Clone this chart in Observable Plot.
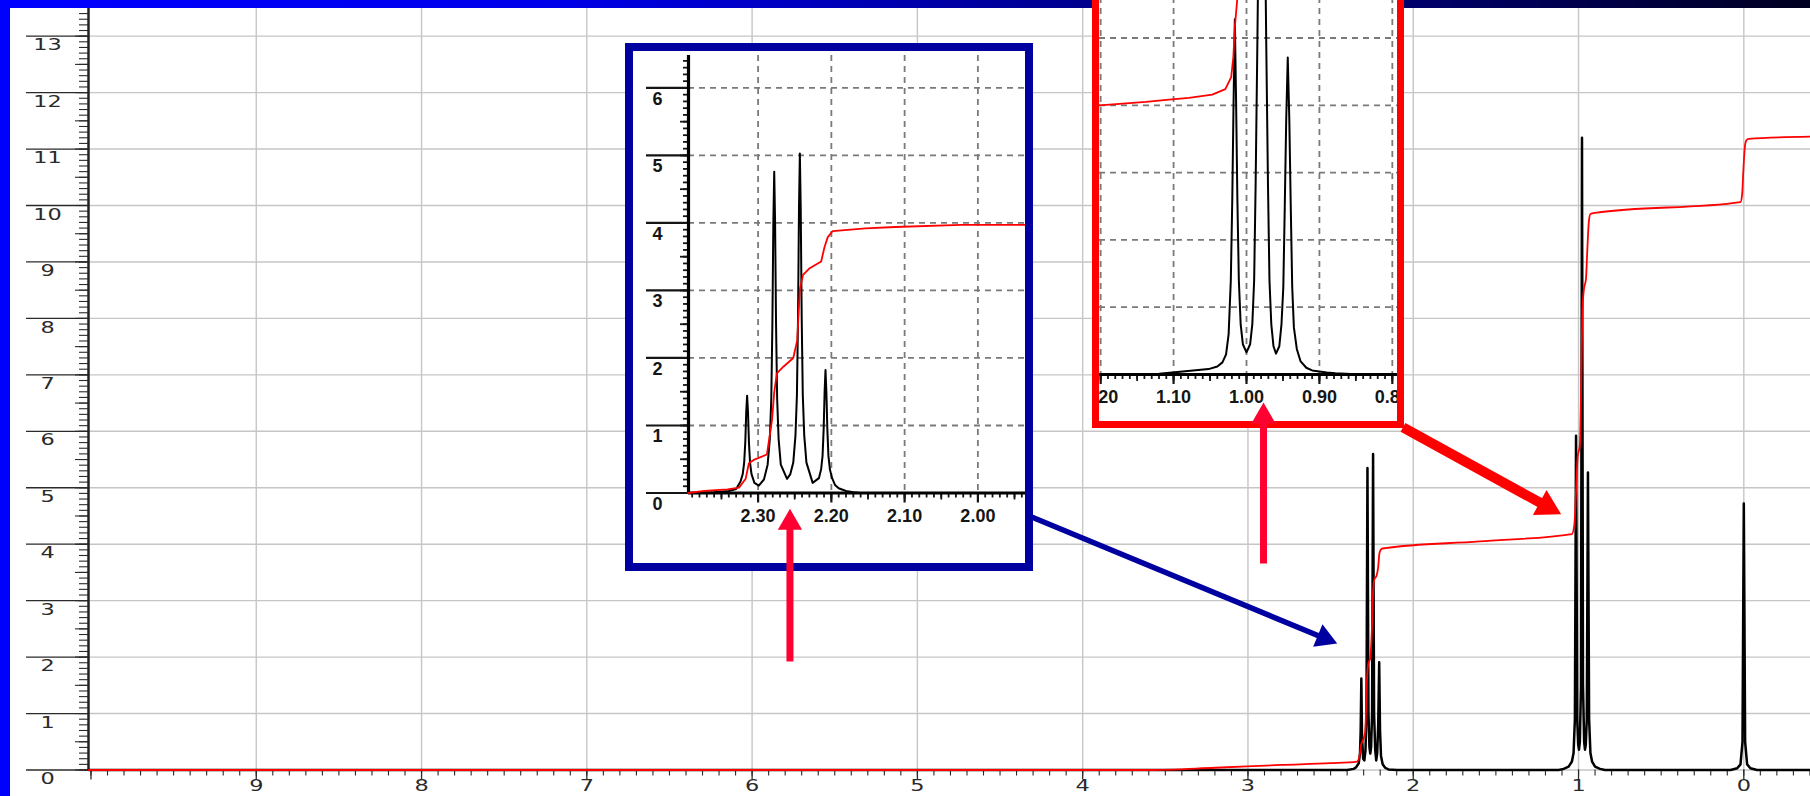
<!DOCTYPE html>
<html><head><meta charset="utf-8">
<script src="https://cdn.jsdelivr.net/npm/d3@7"></script>
<script src="https://cdn.jsdelivr.net/npm/@observablehq/plot@0.6"></script>
<style>
html,body{margin:0;padding:0;background:#fff;overflow:hidden}
#wrap{position:relative;width:1810px;height:796px;overflow:hidden;background:#fff}
#wrap svg{display:block}
#topbar{position:absolute;left:0;top:0;width:1810px;height:8px;background:linear-gradient(to right,#0000ff 0%,#0000ea 30%,#00008e 60%,#00006c 78%,#000020 100%)}
#leftbar{position:absolute;left:0;top:0;width:10px;height:796px;background:#0000ff}
.box{position:absolute;box-sizing:border-box;background:#fff;overflow:hidden}
#box1{left:625px;top:43px;width:408px;height:528px;border:8px solid #0000a0}
#box2{left:1092px;top:-10px;width:312px;height:438px;border:7px solid #ff0000}
.box svg{position:absolute;left:0;top:0}
</style></head><body><div id="wrap"></div>
<script>
// ---------------- DATA ----------------
// Main spectrum: [ppm, intensity]
const mainSpectrum = [
 [10.015,0],[2.40,0],[2.36,0.02],[2.345,0.05],[2.33,0.12],[2.322,0.3],[2.318,0.7],[2.314,1.62],[2.310,0.6],[2.303,0.2],[2.296,0.17],[2.289,0.35],[2.283,1.0],[2.277,5.35],[2.271,1.0],[2.265,0.4],[2.260,0.29],[2.255,0.4],[2.249,1.0],[2.243,5.6],[2.237,1.0],[2.23,0.35],[2.224,0.17],[2.218,0.3],[2.212,0.8],[2.206,1.91],[2.201,0.7],[2.195,0.25],[2.185,0.1],[2.17,0.04],[2.15,0.01],[2.10,0],
 [1.12,0],[1.09,0.02],[1.06,0.06],[1.04,0.15],[1.03,0.3],[1.022,0.9],[1.015,5.92],[1.008,0.9],[1.002,0.45],[0.997,0.36],[0.992,0.5],[0.985,1.5],[0.979,11.2],[0.973,1.5],[0.966,0.5],[0.961,0.36],[0.956,0.45],[0.95,0.9],[0.943,5.27],[0.936,0.9],[0.928,0.3],[0.918,0.15],[0.90,0.06],[0.87,0.02],[0.84,0],
 [0.08,0],[0.04,0.03],[0.02,0.1],[0.008,0.5],[0,4.72],[-0.008,0.5],[-0.02,0.1],[-0.04,0.03],[-0.08,0],[-0.4035,0]
];
// Main integral curve: [ppm, value]
const mainIntegral = [
 [10.015,0],[3.6,0],[3.2,0.04],[2.8,0.09],[2.5,0.12],[2.34,0.15],[2.325,0.25],[2.315,0.45],[2.30,0.56],[2.29,0.7],[2.28,1.6],[2.272,1.88],[2.26,1.98],[2.25,2.5],[2.243,3.15],[2.235,3.38],[2.222,3.44],[2.212,3.6],[2.204,3.85],[2.19,3.92],[2.17,3.93],[1.6,4.05],[1.04,4.18],[1.025,4.35],[1.015,4.95],[1.005,5.55],[0.992,5.75],[0.984,6.8],[0.977,8.1],[0.968,8.5],[0.955,8.7],[0.947,9.2],[0.938,9.7],[0.928,9.85],[0.9,9.87],[0.02,10.06],[0.01,10.2],[0.003,10.6],[-0.005,11.0],[-0.015,11.15],[-0.03,11.18],[-0.4035,11.22]
];
// Inset 1 (quartet, 2.4–1.94 ppm)
const inset1Spectrum = [
 [2.395,0],[2.36,0.01],[2.34,0.03],[2.33,0.06],[2.324,0.17],[2.321,0.28],[2.319,0.45],[2.3175,0.75],[2.3162,1.2],[2.315,1.44],[2.3138,1.2],[2.3125,0.75],[2.311,0.45],[2.309,0.28],[2.305,0.15],[2.299,0.11],[2.292,0.2],[2.287,0.42],[2.284,0.8],[2.282,1.4],[2.2805,2.5],[2.2792,4.0],[2.278,4.76],[2.2768,4.0],[2.2755,2.5],[2.274,1.4],[2.272,0.8],[2.269,0.42],[2.2605,0.21],[2.256,0.28],[2.252,0.45],[2.249,0.85],[2.247,1.45],[2.2455,2.6],[2.2442,4.2],[2.243,5.03],[2.2418,4.2],[2.2405,2.6],[2.239,1.45],[2.237,0.85],[2.234,0.45],[2.2255,0.15],[2.217,0.22],[2.214,0.35],[2.212,0.55],[2.2105,0.95],[2.2092,1.5],[2.208,1.82],[2.2068,1.5],[2.2055,0.95],[2.204,0.55],[2.202,0.35],[2.199,0.22],[2.195,0.12],[2.19,0.07],[2.18,0.03],[2.17,0.01],[2.16,0],[1.935,0]
];
const inset1Integral = [
 [2.3955,0],[2.373,0.03],[2.3417,0.055],[2.326,0.08],[2.317,0.21],[2.3126,0.44],[2.306,0.49],[2.288,0.57],[2.281,1.08],[2.278,1.49],[2.2744,1.77],[2.2655,1.87],[2.252,2.0],[2.2466,2.26],[2.243,3.02],[2.2386,3.23],[2.2296,3.33],[2.2139,3.43],[2.2094,3.64],[2.2049,3.79],[2.1982,3.88],[2.1534,3.92],[2.113,3.94],[2.0233,3.97],[1.935,3.97]
];
// Inset 2 (triplet, 1.2–0.8 ppm)
const inset2Spectrum = [
 [1.2016,0],[1.12,0.01],[1.084,0.05],[1.052,0.08],[1.04,0.12],[1.033,0.18],[1.028,0.3],[1.0245,0.6],[1.0215,1.4],[1.0195,2.6],[1.0178,4.0],[1.016,5.28],[1.0142,4.0],[1.0125,2.6],[1.0105,1.4],[1.008,0.75],[1.005,0.45],[1.0,0.33],[0.995,0.45],[0.992,0.75],[0.9895,1.4],[0.9875,2.8],[0.985,5.0],[0.982,8.0],[0.979,10.0],[0.976,8.0],[0.973,5.0],[0.9705,2.8],[0.9685,1.4],[0.966,0.75],[0.963,0.42],[0.9595,0.31],[0.955,0.42],[0.952,0.75],[0.9495,1.3],[0.9475,2.5],[0.9455,3.8],[0.9434,4.71],[0.9413,3.8],[0.9393,2.5],[0.9373,1.3],[0.935,0.7],[0.931,0.38],[0.926,0.2],[0.918,0.1],[0.91,0.06],[0.89,0.03],[0.878,0.02],[0.85,0.005],[0.7929,0]
];
const inset2Integral = [
 [1.2016,4.0],[1.138,4.05],[1.11,4.08],[1.079,4.11],[1.047,4.16],[1.029,4.24],[1.021,4.42],[1.018,4.72],[1.016,5.16],[1.0128,5.56],[1.005,6.2]
];
// Tick labels
const mainXTickLabels = [9,8,7,6,5,4,3,2,1,0];
const mainYTickLabels = [0,1,2,3,4,5,6,7,8,9,10,11,12,13];
const inset1XTickLabels = [2.30,2.20,2.10,2.00];
const inset1YTickLabels = [0,1,2,3,4,5,6];
const inset2XTickLabels = [1.20,1.10,1.00,0.90,0.80];
const inset2YGrid = [1,2,3,4,5];
// Annotation arrows, in main-chart coordinates (ppm, intensity)
const arrowFromPpm   = [5.771, 2.906, 4.316, 2.062];
const arrowFromValue = [1.92, 3.66, 4.49, 6.07];
const arrowToPpm     = [5.771, 2.906, 2.460, 1.105];
const arrowToValue   = [4.63, 6.51, 2.24, 4.53];

// ---------------- STYLE / LAYOUT ----------------
const W = 1810, H = 796;
const M = {left: 88, right: 0, top: 8, bottom: 26.5};
const XD = [10.015, -0.4035], YD = [0, 13.49];
const fmt2 = d3.format(".2f");
const gridStyle = {stroke: "#c6c6c6", strokeOpacity: 1, strokeWidth: 1.4};
const ink = "#2a2a2a";
const mainFont = {fontFamily: "DejaVu Sans, sans-serif", fontSize: 16};
const arrowStyle = [
 {color: "#ff0033", width: 7, r: 9},
 {color: "#ff0033", width: 7, r: 9},
 {color: "#0000a0", width: 5.5, r: 9},
 {color: "#ff0000", width: 10, r: 10.5}
];
const xy = {x: d => d[0], y: d => d[1]};
const tickOnly = {fill: "none", label: null};

// widen axis tick labels horizontally (reference glyphs are wide)
function stretchLabels(svg, sx) {
  svg.querySelectorAll('g[aria-label="x-axis tick label"] text, g[aria-label="y-axis tick label"] text').forEach(t => {
    const tr = t.getAttribute("transform");
    if (tr) t.setAttribute("transform", tr + ` scale(${sx},1)`);
    else {
      const x = +t.getAttribute("x") || 0, y = +t.getAttribute("y") || 0;
      t.removeAttribute("x"); t.removeAttribute("y");
      t.setAttribute("transform", `translate(${x},${y}) scale(${sx},1)`);
    }
  });
}

const wrap = document.getElementById("wrap");

const main = Plot.plot({
  width: W, height: H,
  marginLeft: M.left, marginRight: M.right, marginTop: M.top, marginBottom: M.bottom,
  x: {domain: XD}, y: {domain: YD},
  style: {background: "#fff", fontFamily: "DejaVu Sans, sans-serif", fontSize: "16px", color: ink},
  marks: [
    Plot.gridX({ticks: d3.range(0, 10), ...gridStyle}),
    Plot.gridY({ticks: mainYTickLabels, ...gridStyle}),
    Plot.axisY({ticks: d3.range(0, 135).map(i => i / 10), tickSize: 9, stroke: ink, strokeWidth: 1.1, ...tickOnly}),
    Plot.axisY({ticks: d3.range(0, 27).map(i => i / 2), tickSize: 13, stroke: ink, strokeWidth: 1.1, ...tickOnly}),
    Plot.axisY({ticks: mainYTickLabels, tickSize: 62, stroke: ink, strokeWidth: 1.3, ...tickOnly}),
    Plot.axisY({ticks: mainYTickLabels, tickSize: 0, tickPadding: 41, textAnchor: "middle", dy: 9, fill: ink, ...mainFont, tickFormat: d => String(d), label: null}),
    Plot.axisX({ticks: d3.range(-4, 101).map(i => i / 10), tickSize: 6, stroke: ink, strokeWidth: 1.1, ...tickOnly}),
    Plot.axisX({ticks: d3.range(0, 11), tickSize: 10, stroke: ink, strokeWidth: 1.3, ...tickOnly}),
    Plot.axisX({ticks: mainXTickLabels, tickSize: 0, tickPadding: 10, fill: ink, ...mainFont, tickFormat: d => String(d), label: null}),
    Plot.ruleX([XD[0]], {stroke: "#222", strokeWidth: 2.5}),
    Plot.line(mainSpectrum, {...xy, stroke: "#000", strokeWidth: 2.5}),
    Plot.line(mainIntegral, {...xy, stroke: "#ff0000", strokeWidth: 1.8, curve: "monotone-x"})
  ]
});
stretchLabels(main, 1.4);
wrap.appendChild(main);

const topbar = document.createElement("div"); topbar.id = "topbar"; wrap.appendChild(topbar);
const leftbar = document.createElement("div"); leftbar.id = "leftbar"; wrap.appendChild(leftbar);

// ---- Inset 1 ----
const box1 = document.createElement("div"); box1.className = "box"; box1.id = "box1"; wrap.appendChild(box1);
const dash = {stroke: "#7a7a7a", strokeOpacity: 1, strokeWidth: 1.8, strokeDasharray: "6,5"};
const inkIn = "#151515";
const insetFont = {fontFamily: "Liberation Sans, Arial, sans-serif", fontSize: 18, fontWeight: "bold"};
const insetStyle = {background: "#fff", fontFamily: "Liberation Sans, Arial, sans-serif", fontSize: "18px", color: inkIn};
const in1 = Plot.plot({
  width: 392, height: 512, marginLeft: 55, marginRight: 0, marginTop: 4, marginBottom: 70.5,
  x: {domain: [2.395, 1.935]}, y: {domain: [0, 6.48]},
  style: insetStyle,
  marks: [
    Plot.gridX({ticks: inset1XTickLabels, ...dash}),
    Plot.gridY({ticks: inset1YTickLabels.slice(1), ...dash}),
    Plot.axisY({ticks: d3.range(0, 65).map(i => i / 10), tickSize: 5, stroke: inkIn, strokeWidth: 1.8, ...tickOnly}),
    Plot.axisY({ticks: d3.range(0, 13).map(i => i / 2), tickSize: 8, stroke: inkIn, strokeWidth: 1.8, ...tickOnly}),
    Plot.axisY({ticks: inset1YTickLabels, tickSize: 42, stroke: inkIn, strokeWidth: 2.2, ...tickOnly}),
    Plot.axisY({ticks: inset1YTickLabels, tickSize: 0, tickPadding: 31, textAnchor: "middle", dy: 11, fill: inkIn, ...insetFont, tickFormat: d => String(d), label: null}),
    Plot.axisX({ticks: d3.range(194, 240).map(i => i / 100), tickSize: 5, stroke: inkIn, strokeWidth: 1.8, ...tickOnly}),
    Plot.axisX({ticks: d3.range(39, 48).map(i => i / 20), tickSize: 7, stroke: inkIn, strokeWidth: 1.8, ...tickOnly}),
    Plot.axisX({ticks: inset1XTickLabels, tickSize: 10, stroke: inkIn, strokeWidth: 2.2, ...tickOnly}),
    Plot.axisX({ticks: inset1XTickLabels, tickSize: 0, tickPadding: 16, fill: inkIn, ...insetFont, tickFormat: fmt2, label: null}),
    Plot.ruleX([2.395], {stroke: "#000", strokeWidth: 3.2}),
    Plot.ruleY([0], {stroke: "#000", strokeWidth: 3.2}),
    Plot.line(inset1Spectrum, {...xy, stroke: "#000", strokeWidth: 2}),
    Plot.line(inset1Integral, {...xy, stroke: "#ff0000", strokeWidth: 1.8})
  ]
});
box1.appendChild(in1);

// ---- Inset 2 ----
const box2 = document.createElement("div"); box2.className = "box"; box2.id = "box2"; wrap.appendChild(box2);
const in2 = Plot.plot({
  width: 298, height: 424, marginLeft: 0, marginRight: 0, marginTop: 0, marginBottom: 47,
  x: {domain: [1.2016, 0.7929]}, y: {domain: [0, 5.602], axis: null},
  style: insetStyle,
  marks: [
    Plot.gridX({ticks: inset2XTickLabels, ...dash}),
    Plot.gridY({ticks: inset2YGrid, ...dash}),
    Plot.axisX({ticks: d3.range(80, 121).map(i => i / 100), tickSize: 5, stroke: inkIn, strokeWidth: 1.8, ...tickOnly}),
    Plot.axisX({ticks: d3.range(16, 25).map(i => i / 20), tickSize: 7, stroke: inkIn, strokeWidth: 1.8, ...tickOnly}),
    Plot.axisX({ticks: inset2XTickLabels, tickSize: 10, stroke: inkIn, strokeWidth: 2.2, ...tickOnly}),
    Plot.axisX({ticks: inset2XTickLabels, tickSize: 0, tickPadding: 16, fill: inkIn, ...insetFont, tickFormat: fmt2, label: null}),
    Plot.ruleY([0], {stroke: "#000", strokeWidth: 3.2}),
    Plot.line(inset2Spectrum, {...xy, stroke: "#000", strokeWidth: 2}),
    Plot.line(inset2Integral, {...xy, stroke: "#ff0000", strokeWidth: 1.8})
  ]
});
box2.appendChild(in2);

// ---- Arrows overlay (same scales as main chart) ----
const Xs = Plot.scale({x: {domain: XD, range: [M.left, W - M.right]}});
const Ys = Plot.scale({y: {domain: YD, range: [H - M.bottom, M.top]}});
const arrowMarks = arrowFromPpm.flatMap((_, i) => {
  const s = arrowStyle[i];
  const px1 = Xs.apply(arrowFromPpm[i]), py1 = Ys.apply(arrowFromValue[i]);
  const px2 = Xs.apply(arrowToPpm[i]), py2 = Ys.apply(arrowToValue[i]);
  const len = Math.hypot(px2 - px1, py2 - py1);
  const ux = (px2 - px1) / len, uy = (py2 - py1) / len;
  const back = 1.555 * s.r;
  const ang = Math.atan2(uy, ux) * 180 / Math.PI + 90;
  return [
    Plot.arrow([i], {x1: j => arrowFromPpm[j], y1: j => arrowFromValue[j], x2: j => arrowToPpm[j], y2: j => arrowToValue[j],
      stroke: s.color, strokeWidth: s.width, headLength: 0, insetEnd: 1.6 * s.r, strokeLinecap: "butt"}),
    Plot.dot([i], {x: j => arrowToPpm[j], y: j => arrowToValue[j], symbol: "triangle", r: s.r, fill: s.color,
      rotate: ang, dx: -ux * back, dy: -uy * back})
  ];
});
const overlay = Plot.plot({
  width: W, height: H,
  marginLeft: M.left, marginRight: M.right, marginTop: M.top, marginBottom: M.bottom,
  x: {domain: XD, axis: null}, y: {domain: YD, axis: null},
  style: {background: "transparent"},
  marks: arrowMarks
});
overlay.style.position = "absolute";
overlay.style.left = "0px";
overlay.style.top = "0px";
overlay.style.pointerEvents = "none";
wrap.appendChild(overlay);
</script></body></html>
